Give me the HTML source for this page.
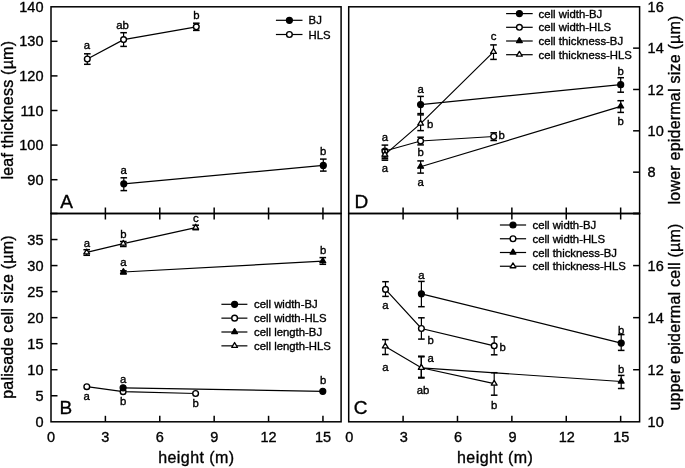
<!DOCTYPE html>
<html><head><meta charset="utf-8"><style>
html,body{margin:0;padding:0;background:#fff;}
svg{display:block;will-change:transform;}
text{font-family:"Liberation Sans",sans-serif;fill:#000;stroke:#000;stroke-width:0.35px;}
</style></head><body>
<svg width="685" height="468" viewBox="0 0 685 468">
<rect width="685" height="468" fill="#fff"/>
<g stroke="#000" fill="none">
<rect x="51.0" y="6.8" width="290.1" height="206.7" fill="none" stroke-width="1.5"/>
<rect x="51.0" y="213.5" width="290.1" height="208.3" fill="none" stroke-width="1.5"/>
<rect x="348.7" y="6.8" width="290.90000000000003" height="206.7" fill="none" stroke-width="1.5"/>
<rect x="348.7" y="213.5" width="290.90000000000003" height="208.3" fill="none" stroke-width="1.5"/>
<line x1="105.39" y1="207.5" x2="105.39" y2="219.5" stroke-width="1.5"/>
<line x1="105.39" y1="415.8" x2="105.39" y2="421.8" stroke-width="1.5"/>
<line x1="159.78" y1="207.5" x2="159.78" y2="219.5" stroke-width="1.5"/>
<line x1="159.78" y1="415.8" x2="159.78" y2="421.8" stroke-width="1.5"/>
<line x1="214.17" y1="207.5" x2="214.17" y2="219.5" stroke-width="1.5"/>
<line x1="214.17" y1="415.8" x2="214.17" y2="421.8" stroke-width="1.5"/>
<line x1="268.56" y1="207.5" x2="268.56" y2="219.5" stroke-width="1.5"/>
<line x1="268.56" y1="415.8" x2="268.56" y2="421.8" stroke-width="1.5"/>
<line x1="322.95" y1="207.5" x2="322.95" y2="219.5" stroke-width="1.5"/>
<line x1="322.95" y1="415.8" x2="322.95" y2="421.8" stroke-width="1.5"/>
<text x="51.0" y="442.3" font-size="14.5" text-anchor="middle" >0</text>
<text x="105.39" y="442.3" font-size="14.5" text-anchor="middle" >3</text>
<text x="159.78" y="442.3" font-size="14.5" text-anchor="middle" >6</text>
<text x="214.17" y="442.3" font-size="14.5" text-anchor="middle" >9</text>
<text x="268.56" y="442.3" font-size="14.5" text-anchor="middle" >12</text>
<text x="322.95" y="442.3" font-size="14.5" text-anchor="middle" >15</text>
<line x1="403.09" y1="207.5" x2="403.09" y2="219.5" stroke-width="1.5"/>
<line x1="403.09" y1="415.8" x2="403.09" y2="421.8" stroke-width="1.5"/>
<line x1="457.48" y1="207.5" x2="457.48" y2="219.5" stroke-width="1.5"/>
<line x1="457.48" y1="415.8" x2="457.48" y2="421.8" stroke-width="1.5"/>
<line x1="511.87" y1="207.5" x2="511.87" y2="219.5" stroke-width="1.5"/>
<line x1="511.87" y1="415.8" x2="511.87" y2="421.8" stroke-width="1.5"/>
<line x1="566.26" y1="207.5" x2="566.26" y2="219.5" stroke-width="1.5"/>
<line x1="566.26" y1="415.8" x2="566.26" y2="421.8" stroke-width="1.5"/>
<line x1="620.65" y1="207.5" x2="620.65" y2="219.5" stroke-width="1.5"/>
<line x1="620.65" y1="415.8" x2="620.65" y2="421.8" stroke-width="1.5"/>
<text x="349.3" y="442.3" font-size="14.5" text-anchor="middle" >0</text>
<text x="403.69" y="442.3" font-size="14.5" text-anchor="middle" >3</text>
<text x="458.08" y="442.3" font-size="14.5" text-anchor="middle" >6</text>
<text x="512.47" y="442.3" font-size="14.5" text-anchor="middle" >9</text>
<text x="566.86" y="442.3" font-size="14.5" text-anchor="middle" >12</text>
<text x="621.25" y="442.3" font-size="14.5" text-anchor="middle" >15</text>
<text x="196.4" y="462.6" font-size="16" text-anchor="middle" letter-spacing="0.44">height (m)</text>
<text x="495.2" y="462.6" font-size="16" text-anchor="middle" letter-spacing="0.44">height (m)</text>
<line x1="51.0" y1="179.7" x2="57.5" y2="179.7" stroke-width="1.5"/>
<text x="43.5" y="184.89" font-size="14.5" text-anchor="end" >90</text>
<line x1="51.0" y1="145.1" x2="57.5" y2="145.1" stroke-width="1.5"/>
<text x="43.5" y="150.29" font-size="14.5" text-anchor="end" >100</text>
<line x1="51.0" y1="110.5" x2="57.5" y2="110.5" stroke-width="1.5"/>
<text x="43.5" y="115.69" font-size="14.5" text-anchor="end" >110</text>
<line x1="51.0" y1="75.9" x2="57.5" y2="75.9" stroke-width="1.5"/>
<text x="43.5" y="81.09" font-size="14.5" text-anchor="end" >120</text>
<line x1="51.0" y1="41.300000000000004" x2="57.5" y2="41.300000000000004" stroke-width="1.5"/>
<text x="43.5" y="46.49" font-size="14.5" text-anchor="end" >130</text>
<text x="43.5" y="11.89" font-size="14.5" text-anchor="end" >140</text>
<text x="43.5" y="426.99" font-size="14.5" text-anchor="end" >0</text>
<line x1="51.0" y1="395.7625" x2="57.5" y2="395.7625" stroke-width="1.5"/>
<text x="43.5" y="400.95" font-size="14.5" text-anchor="end" >5</text>
<line x1="51.0" y1="369.725" x2="57.5" y2="369.725" stroke-width="1.5"/>
<text x="43.5" y="374.92" font-size="14.5" text-anchor="end" >10</text>
<line x1="51.0" y1="343.6875" x2="57.5" y2="343.6875" stroke-width="1.5"/>
<text x="43.5" y="348.88" font-size="14.5" text-anchor="end" >15</text>
<line x1="51.0" y1="317.65" x2="57.5" y2="317.65" stroke-width="1.5"/>
<text x="43.5" y="322.84" font-size="14.5" text-anchor="end" >20</text>
<line x1="51.0" y1="291.6125" x2="57.5" y2="291.6125" stroke-width="1.5"/>
<text x="43.5" y="296.8" font-size="14.5" text-anchor="end" >25</text>
<line x1="51.0" y1="265.57500000000005" x2="57.5" y2="265.57500000000005" stroke-width="1.5"/>
<text x="43.5" y="270.77" font-size="14.5" text-anchor="end" >30</text>
<line x1="51.0" y1="239.53750000000002" x2="57.5" y2="239.53750000000002" stroke-width="1.5"/>
<text x="43.5" y="244.73" font-size="14.5" text-anchor="end" >35</text>
<line x1="51.0" y1="213.5" x2="57.5" y2="213.5" stroke-width="1.5"/>
<line x1="633.1" y1="213.5" x2="639.6" y2="213.5" stroke-width="1.5"/>
<line x1="633.1" y1="172.16" x2="639.6" y2="172.16" stroke-width="1.5"/>
<text x="647.6" y="177.35" font-size="14.5" text-anchor="start" >8</text>
<line x1="633.1" y1="130.82" x2="639.6" y2="130.82" stroke-width="1.5"/>
<text x="647.6" y="136.01" font-size="14.5" text-anchor="start" >10</text>
<line x1="633.1" y1="89.47999999999999" x2="639.6" y2="89.47999999999999" stroke-width="1.5"/>
<text x="647.6" y="94.67" font-size="14.5" text-anchor="start" >12</text>
<line x1="633.1" y1="48.13999999999999" x2="639.6" y2="48.13999999999999" stroke-width="1.5"/>
<text x="647.6" y="53.33" font-size="14.5" text-anchor="start" >14</text>
<text x="647.6" y="11.99" font-size="14.5" text-anchor="start" >16</text>
<text x="647.6" y="426.99" font-size="14.5" text-anchor="start" >10</text>
<line x1="633.1" y1="369.725" x2="639.6" y2="369.725" stroke-width="1.5"/>
<text x="647.6" y="374.92" font-size="14.5" text-anchor="start" >12</text>
<line x1="633.1" y1="317.65" x2="639.6" y2="317.65" stroke-width="1.5"/>
<text x="647.6" y="322.84" font-size="14.5" text-anchor="start" >14</text>
<line x1="633.1" y1="265.575" x2="639.6" y2="265.575" stroke-width="1.5"/>
<text x="647.6" y="270.77" font-size="14.5" text-anchor="start" >16</text>
<line x1="633.1" y1="213.5" x2="639.6" y2="213.5" stroke-width="1.5"/>
<text transform="translate(12.8,110.2) rotate(-90)" font-size="16" text-anchor="middle" letter-spacing="0.22">leaf thickness (µm)</text>
<text transform="translate(12.8,317.0) rotate(-90)" font-size="16" text-anchor="middle" letter-spacing="0.22">palisade cell size (µm)</text>
<text transform="translate(680.3,110.0) rotate(-90)" font-size="16" text-anchor="middle" letter-spacing="0.22">lower epidermal size (µm)</text>
<text transform="translate(680.3,317.0) rotate(-90)" font-size="16" text-anchor="middle" letter-spacing="0.22">upper epidermal cell (µm)</text>
<text x="60.3" y="207.8" font-size="19" text-anchor="start" >A</text>
<text x="59.6" y="413.6" font-size="19" text-anchor="start" >B</text>
<text x="354.5" y="208.0" font-size="19" text-anchor="start" >D</text>
<text x="353.8" y="414.3" font-size="19" text-anchor="start" >C</text>
<polyline points="87.3,59.0 123.6,39.6 196.3,26.8" fill="none" stroke-width="1.2"/>
<line x1="87.3" y1="53.8" x2="87.3" y2="64.3" stroke-width="1.2"/>
<line x1="84.0" y1="53.8" x2="90.6" y2="53.8" stroke-width="1.5"/>
<line x1="84.0" y1="64.3" x2="90.6" y2="64.3" stroke-width="1.5"/>
<line x1="123.6" y1="32.7" x2="123.6" y2="46.4" stroke-width="1.2"/>
<line x1="120.3" y1="32.7" x2="126.89999999999999" y2="32.7" stroke-width="1.5"/>
<line x1="120.3" y1="46.4" x2="126.89999999999999" y2="46.4" stroke-width="1.5"/>
<line x1="196.3" y1="23.2" x2="196.3" y2="30.4" stroke-width="1.2"/>
<line x1="193.0" y1="23.2" x2="199.60000000000002" y2="23.2" stroke-width="1.5"/>
<line x1="193.0" y1="30.4" x2="199.60000000000002" y2="30.4" stroke-width="1.5"/>
<circle cx="87.3" cy="59.0" r="2.8499999999999996" fill="#fff" stroke-width="1.4"/>
<circle cx="123.6" cy="39.6" r="2.8499999999999996" fill="#fff" stroke-width="1.4"/>
<circle cx="196.3" cy="26.8" r="2.8499999999999996" fill="#fff" stroke-width="1.4"/>
<polyline points="123.8,183.8 323.3,165.4" fill="none" stroke-width="1.2"/>
<line x1="123.8" y1="177.8" x2="123.8" y2="190.6" stroke-width="1.2"/>
<line x1="120.5" y1="177.8" x2="127.1" y2="177.8" stroke-width="1.5"/>
<line x1="120.5" y1="190.6" x2="127.1" y2="190.6" stroke-width="1.5"/>
<line x1="323.3" y1="159.1" x2="323.3" y2="171.1" stroke-width="1.2"/>
<line x1="320.0" y1="159.1" x2="326.6" y2="159.1" stroke-width="1.5"/>
<line x1="320.0" y1="171.1" x2="326.6" y2="171.1" stroke-width="1.5"/>
<circle cx="123.8" cy="183.8" r="3.0" fill="#000" stroke-width="1.2"/>
<circle cx="323.3" cy="165.4" r="3.0" fill="#000" stroke-width="1.2"/>
<text x="87.0" y="49.0" font-size="11.35" text-anchor="middle" >a</text>
<text x="122.6" y="29.4" font-size="11.35" text-anchor="middle" >ab</text>
<text x="196.3" y="19.2" font-size="11.35" text-anchor="middle" >b</text>
<text x="123.6" y="173.5" font-size="11.35" text-anchor="middle" >a</text>
<text x="323.1" y="154.8" font-size="11.35" text-anchor="middle" >b</text>
<line x1="275.9" y1="20.3" x2="302.5" y2="20.3" stroke-width="1.2"/>
<circle cx="289.4" cy="20.3" r="3.0" fill="#000" stroke-width="1.2"/>
<text x="308.6" y="24.4" font-size="11.35" text-anchor="start" >BJ</text>
<line x1="275.9" y1="34.5" x2="302.5" y2="34.5" stroke-width="1.2"/>
<circle cx="289.4" cy="34.5" r="2.8499999999999996" fill="#fff" stroke-width="1.4"/>
<text x="308.6" y="38.6" font-size="11.35" text-anchor="start" >HLS</text>
<polyline points="86.7,252.4 123.3,243.7 195.7,227.6" fill="none" stroke-width="1.2"/>
<line x1="86.7" y1="249.7" x2="86.7" y2="255.3" stroke-width="1.2"/>
<line x1="83.4" y1="249.7" x2="90.0" y2="249.7" stroke-width="1.5"/>
<line x1="83.4" y1="255.3" x2="90.0" y2="255.3" stroke-width="1.5"/>
<line x1="123.3" y1="241.5" x2="123.3" y2="246.5" stroke-width="1.2"/>
<line x1="120.0" y1="241.5" x2="126.6" y2="241.5" stroke-width="1.5"/>
<line x1="120.0" y1="246.5" x2="126.6" y2="246.5" stroke-width="1.5"/>
<line x1="195.7" y1="225.2" x2="195.7" y2="229.7" stroke-width="1.2"/>
<line x1="192.39999999999998" y1="225.2" x2="199.0" y2="225.2" stroke-width="1.5"/>
<line x1="192.39999999999998" y1="229.7" x2="199.0" y2="229.7" stroke-width="1.5"/>
<polygon points="86.70,249.10 89.60,253.90 83.80,253.90" fill="#fff" stroke-width="1.3" stroke-linejoin="round"/>
<polygon points="123.30,240.40 126.20,245.20 120.40,245.20" fill="#fff" stroke-width="1.3" stroke-linejoin="round"/>
<polygon points="195.70,224.30 198.60,229.10 192.80,229.10" fill="#fff" stroke-width="1.3" stroke-linejoin="round"/>
<polyline points="123.4,272.0 322.8,261.2" fill="none" stroke-width="1.2"/>
<line x1="123.4" y1="270.8" x2="123.4" y2="274.0" stroke-width="1.2"/>
<line x1="120.10000000000001" y1="270.8" x2="126.7" y2="270.8" stroke-width="1.5"/>
<line x1="120.10000000000001" y1="274.0" x2="126.7" y2="274.0" stroke-width="1.5"/>
<line x1="322.8" y1="257.6" x2="322.8" y2="264.3" stroke-width="1.2"/>
<line x1="319.5" y1="257.6" x2="326.1" y2="257.6" stroke-width="1.5"/>
<line x1="319.5" y1="264.3" x2="326.1" y2="264.3" stroke-width="1.5"/>
<polygon points="123.40,268.70 126.30,273.50 120.50,273.50" fill="#000" stroke-width="1.3" stroke-linejoin="round"/>
<polygon points="322.80,257.90 325.70,262.70 319.90,262.70" fill="#000" stroke-width="1.3" stroke-linejoin="round"/>
<polyline points="86.8,386.7 123.1,391.7 195.6,393.5" fill="none" stroke-width="1.2"/>
<circle cx="86.8" cy="386.7" r="2.8499999999999996" fill="#fff" stroke-width="1.4"/>
<circle cx="123.1" cy="391.7" r="2.8499999999999996" fill="#fff" stroke-width="1.4"/>
<circle cx="195.6" cy="393.5" r="2.8499999999999996" fill="#fff" stroke-width="1.4"/>
<polyline points="123.1,387.8 322.8,391.3" fill="none" stroke-width="1.2"/>
<circle cx="123.1" cy="387.8" r="3.0" fill="#000" stroke-width="1.2"/>
<circle cx="322.8" cy="391.3" r="3.0" fill="#000" stroke-width="1.2"/>
<text x="87.0" y="246.5" font-size="11.35" text-anchor="middle" >a</text>
<text x="123.3" y="237.7" font-size="11.35" text-anchor="middle" >b</text>
<text x="195.9" y="222.2" font-size="11.35" text-anchor="middle" >c</text>
<text x="123.4" y="266.4" font-size="11.35" text-anchor="middle" >a</text>
<text x="323.1" y="254.2" font-size="11.35" text-anchor="middle" >b</text>
<text x="86.6" y="400.0" font-size="11.35" text-anchor="middle" >a</text>
<text x="123.1" y="405.2" font-size="11.35" text-anchor="middle" >b</text>
<text x="195.6" y="407.0" font-size="11.35" text-anchor="middle" >b</text>
<text x="123.1" y="382.9" font-size="11.35" text-anchor="middle" >a</text>
<text x="323.1" y="384.2" font-size="11.35" text-anchor="middle" >b</text>
<line x1="221.4" y1="304.3" x2="247.4" y2="304.3" stroke-width="1.2"/>
<circle cx="234.6" cy="304.3" r="3.0" fill="#000" stroke-width="1.2"/>
<text x="254.0" y="308.4" font-size="11.35" text-anchor="start" >cell width-BJ</text>
<line x1="221.4" y1="318.15000000000003" x2="247.4" y2="318.15000000000003" stroke-width="1.2"/>
<circle cx="234.6" cy="318.15000000000003" r="2.8499999999999996" fill="#fff" stroke-width="1.4"/>
<text x="254.0" y="322.25" font-size="11.35" text-anchor="start" >cell width-HLS</text>
<line x1="221.4" y1="332.0" x2="247.4" y2="332.0" stroke-width="1.2"/>
<polygon points="234.60,328.70 237.50,333.50 231.70,333.50" fill="#000" stroke-width="1.3" stroke-linejoin="round"/>
<text x="254.0" y="336.1" font-size="11.35" text-anchor="start" >cell length-BJ</text>
<line x1="221.4" y1="345.85" x2="247.4" y2="345.85" stroke-width="1.2"/>
<polygon points="234.60,342.55 237.50,347.35 231.70,347.35" fill="#fff" stroke-width="1.3" stroke-linejoin="round"/>
<text x="254.0" y="349.95" font-size="11.35" text-anchor="start" >cell length-HLS</text>
<polyline points="384.9,151.0 420.6,141.0 493.7,136.5" fill="none" stroke-width="1.2"/>
<line x1="384.9" y1="145.1" x2="384.9" y2="157.0" stroke-width="1.2"/>
<line x1="381.59999999999997" y1="145.1" x2="388.2" y2="145.1" stroke-width="1.5"/>
<line x1="381.59999999999997" y1="157.0" x2="388.2" y2="157.0" stroke-width="1.5"/>
<line x1="420.6" y1="137.2" x2="420.6" y2="144.9" stroke-width="1.2"/>
<line x1="417.3" y1="137.2" x2="423.90000000000003" y2="137.2" stroke-width="1.5"/>
<line x1="417.3" y1="144.9" x2="423.90000000000003" y2="144.9" stroke-width="1.5"/>
<line x1="493.7" y1="132.8" x2="493.7" y2="140.5" stroke-width="1.2"/>
<line x1="490.4" y1="132.8" x2="497.0" y2="132.8" stroke-width="1.5"/>
<line x1="490.4" y1="140.5" x2="497.0" y2="140.5" stroke-width="1.5"/>
<circle cx="384.9" cy="151.0" r="2.8499999999999996" fill="#fff" stroke-width="1.4"/>
<circle cx="420.6" cy="141.0" r="2.8499999999999996" fill="#fff" stroke-width="1.4"/>
<circle cx="493.7" cy="136.5" r="2.8499999999999996" fill="#fff" stroke-width="1.4"/>
<polyline points="384.9,154.6 420.6,123.6 493.5,51.9" fill="none" stroke-width="1.2"/>
<line x1="384.9" y1="149.5" x2="384.9" y2="158.6" stroke-width="1.2"/>
<line x1="381.59999999999997" y1="149.5" x2="388.2" y2="149.5" stroke-width="1.5"/>
<line x1="381.59999999999997" y1="158.6" x2="388.2" y2="158.6" stroke-width="1.5"/>
<line x1="420.6" y1="114.9" x2="420.6" y2="130.6" stroke-width="1.2"/>
<line x1="417.3" y1="114.9" x2="423.90000000000003" y2="114.9" stroke-width="1.5"/>
<line x1="417.3" y1="130.6" x2="423.90000000000003" y2="130.6" stroke-width="1.5"/>
<line x1="493.5" y1="44.9" x2="493.5" y2="59.4" stroke-width="1.2"/>
<line x1="490.2" y1="44.9" x2="496.8" y2="44.9" stroke-width="1.5"/>
<line x1="490.2" y1="59.4" x2="496.8" y2="59.4" stroke-width="1.5"/>
<polygon points="384.90,151.30 387.80,156.10 382.00,156.10" fill="#fff" stroke-width="1.3" stroke-linejoin="round"/>
<polygon points="420.60,120.30 423.50,125.10 417.70,125.10" fill="#fff" stroke-width="1.3" stroke-linejoin="round"/>
<polygon points="493.50,48.60 496.40,53.40 490.60,53.40" fill="#fff" stroke-width="1.3" stroke-linejoin="round"/>
<polyline points="420.6,166.7 620.7,106.4" fill="none" stroke-width="1.2"/>
<line x1="420.6" y1="160.9" x2="420.6" y2="173.1" stroke-width="1.2"/>
<line x1="417.3" y1="160.9" x2="423.90000000000003" y2="160.9" stroke-width="1.5"/>
<line x1="417.3" y1="173.1" x2="423.90000000000003" y2="173.1" stroke-width="1.5"/>
<line x1="620.7" y1="100.7" x2="620.7" y2="112.4" stroke-width="1.2"/>
<line x1="617.4000000000001" y1="100.7" x2="624.0" y2="100.7" stroke-width="1.5"/>
<line x1="617.4000000000001" y1="112.4" x2="624.0" y2="112.4" stroke-width="1.5"/>
<polygon points="420.60,163.40 423.50,168.20 417.70,168.20" fill="#000" stroke-width="1.3" stroke-linejoin="round"/>
<polygon points="620.70,103.10 623.60,107.90 617.80,107.90" fill="#000" stroke-width="1.3" stroke-linejoin="round"/>
<polyline points="420.6,104.6 620.7,84.7" fill="none" stroke-width="1.2"/>
<line x1="420.6" y1="96.4" x2="420.6" y2="113.6" stroke-width="1.2"/>
<line x1="417.3" y1="96.4" x2="423.90000000000003" y2="96.4" stroke-width="1.5"/>
<line x1="417.3" y1="113.6" x2="423.90000000000003" y2="113.6" stroke-width="1.5"/>
<line x1="620.7" y1="77.7" x2="620.7" y2="92.2" stroke-width="1.2"/>
<line x1="617.4000000000001" y1="77.7" x2="624.0" y2="77.7" stroke-width="1.5"/>
<line x1="617.4000000000001" y1="92.2" x2="624.0" y2="92.2" stroke-width="1.5"/>
<circle cx="420.6" cy="104.6" r="3.0" fill="#000" stroke-width="1.2"/>
<circle cx="620.7" cy="84.7" r="3.0" fill="#000" stroke-width="1.2"/>
<line x1="381.59999999999997" y1="160.2" x2="388.2" y2="160.2" stroke-width="1.5"/>
<text x="384.9" y="141.2" font-size="11.35" text-anchor="middle" >a</text>
<text x="384.9" y="172.0" font-size="11.35" text-anchor="middle" >a</text>
<text x="420.6" y="93.2" font-size="11.35" text-anchor="middle" >a</text>
<text x="427.0" y="127.8" font-size="11.35" text-anchor="start" >b</text>
<text x="420.6" y="156.2" font-size="11.35" text-anchor="middle" >b</text>
<text x="420.6" y="185.9" font-size="11.35" text-anchor="middle" >a</text>
<text x="493.5" y="40.1" font-size="11.35" text-anchor="middle" >c</text>
<text x="498.6" y="139.2" font-size="11.35" text-anchor="start" >b</text>
<text x="620.7" y="75.4" font-size="11.35" text-anchor="middle" >b</text>
<text x="620.7" y="124.7" font-size="11.35" text-anchor="middle" >b</text>
<line x1="506.1" y1="13.6" x2="532.7" y2="13.6" stroke-width="1.2"/>
<circle cx="519.4" cy="13.6" r="3.0" fill="#000" stroke-width="1.2"/>
<text x="538.6" y="17.7" font-size="11.35" text-anchor="start" >cell width-BJ</text>
<line x1="506.1" y1="27.299999999999997" x2="532.7" y2="27.299999999999997" stroke-width="1.2"/>
<circle cx="519.4" cy="27.299999999999997" r="2.8499999999999996" fill="#fff" stroke-width="1.4"/>
<text x="538.6" y="31.4" font-size="11.35" text-anchor="start" >cell width-HLS</text>
<line x1="506.1" y1="41.0" x2="532.7" y2="41.0" stroke-width="1.2"/>
<polygon points="519.40,37.70 522.30,42.50 516.50,42.50" fill="#000" stroke-width="1.3" stroke-linejoin="round"/>
<text x="538.6" y="45.1" font-size="11.35" text-anchor="start" >cell thickness-BJ</text>
<line x1="506.1" y1="54.699999999999996" x2="532.7" y2="54.699999999999996" stroke-width="1.2"/>
<polygon points="519.40,51.40 522.30,56.20 516.50,56.20" fill="#fff" stroke-width="1.3" stroke-linejoin="round"/>
<text x="538.6" y="58.8" font-size="11.35" text-anchor="start" >cell thickness-HLS</text>
<polyline points="421.4,293.8 621.2,343.1" fill="none" stroke-width="1.2"/>
<line x1="421.4" y1="281.4" x2="421.4" y2="306.7" stroke-width="1.2"/>
<line x1="418.09999999999997" y1="281.4" x2="424.7" y2="281.4" stroke-width="1.5"/>
<line x1="418.09999999999997" y1="306.7" x2="424.7" y2="306.7" stroke-width="1.5"/>
<line x1="621.2" y1="334.6" x2="621.2" y2="350.4" stroke-width="1.2"/>
<line x1="617.9000000000001" y1="334.6" x2="624.5" y2="334.6" stroke-width="1.5"/>
<line x1="617.9000000000001" y1="350.4" x2="624.5" y2="350.4" stroke-width="1.5"/>
<circle cx="421.4" cy="293.8" r="3.0" fill="#000" stroke-width="1.2"/>
<circle cx="621.2" cy="343.1" r="3.0" fill="#000" stroke-width="1.2"/>
<polyline points="385.5,289.4 421.4,328.5 494.2,345.8" fill="none" stroke-width="1.2"/>
<line x1="385.5" y1="281.7" x2="385.5" y2="296.4" stroke-width="1.2"/>
<line x1="382.2" y1="281.7" x2="388.8" y2="281.7" stroke-width="1.5"/>
<line x1="382.2" y1="296.4" x2="388.8" y2="296.4" stroke-width="1.5"/>
<line x1="421.4" y1="317.8" x2="421.4" y2="339.1" stroke-width="1.2"/>
<line x1="418.09999999999997" y1="317.8" x2="424.7" y2="317.8" stroke-width="1.5"/>
<line x1="418.09999999999997" y1="339.1" x2="424.7" y2="339.1" stroke-width="1.5"/>
<line x1="494.2" y1="336.9" x2="494.2" y2="354.8" stroke-width="1.2"/>
<line x1="490.9" y1="336.9" x2="497.5" y2="336.9" stroke-width="1.5"/>
<line x1="490.9" y1="354.8" x2="497.5" y2="354.8" stroke-width="1.5"/>
<circle cx="385.5" cy="289.4" r="2.8499999999999996" fill="#fff" stroke-width="1.4"/>
<circle cx="421.4" cy="328.5" r="2.8499999999999996" fill="#fff" stroke-width="1.4"/>
<circle cx="494.2" cy="345.8" r="2.8499999999999996" fill="#fff" stroke-width="1.4"/>
<polyline points="421.3,367.8 621.2,381.5" fill="none" stroke-width="1.2"/>
<line x1="421.3" y1="356.2" x2="421.3" y2="377.4" stroke-width="1.2"/>
<line x1="418.0" y1="356.2" x2="424.6" y2="356.2" stroke-width="1.5"/>
<line x1="418.0" y1="377.4" x2="424.6" y2="377.4" stroke-width="1.5"/>
<line x1="621.2" y1="375.4" x2="621.2" y2="388.5" stroke-width="1.2"/>
<line x1="617.9000000000001" y1="375.4" x2="624.5" y2="375.4" stroke-width="1.5"/>
<line x1="617.9000000000001" y1="388.5" x2="624.5" y2="388.5" stroke-width="1.5"/>
<polygon points="421.30,364.50 424.20,369.30 418.40,369.30" fill="#000" stroke-width="1.3" stroke-linejoin="round"/>
<polygon points="621.20,378.20 624.10,383.00 618.30,383.00" fill="#000" stroke-width="1.3" stroke-linejoin="round"/>
<polyline points="385.3,346.4 421.3,367.8 494.2,383.7" fill="none" stroke-width="1.2"/>
<line x1="385.3" y1="339.6" x2="385.3" y2="354.5" stroke-width="1.2"/>
<line x1="382.0" y1="339.6" x2="388.6" y2="339.6" stroke-width="1.5"/>
<line x1="382.0" y1="354.5" x2="388.6" y2="354.5" stroke-width="1.5"/>
<line x1="421.3" y1="356.8" x2="421.3" y2="378.0" stroke-width="1.2"/>
<line x1="418.0" y1="356.8" x2="424.6" y2="356.8" stroke-width="1.5"/>
<line x1="418.0" y1="378.0" x2="424.6" y2="378.0" stroke-width="1.5"/>
<line x1="494.2" y1="372.7" x2="494.2" y2="395.2" stroke-width="1.2"/>
<line x1="490.9" y1="372.7" x2="497.5" y2="372.7" stroke-width="1.5"/>
<line x1="490.9" y1="395.2" x2="497.5" y2="395.2" stroke-width="1.5"/>
<polygon points="385.30,343.10 388.20,347.90 382.40,347.90" fill="#fff" stroke-width="1.3" stroke-linejoin="round"/>
<polygon points="421.30,364.50 424.20,369.30 418.40,369.30" fill="#fff" stroke-width="1.3" stroke-linejoin="round"/>
<polygon points="494.20,380.40 497.10,385.20 491.30,385.20" fill="#fff" stroke-width="1.3" stroke-linejoin="round"/>
<text x="421.4" y="278.9" font-size="11.35" text-anchor="middle" >a</text>
<text x="621.2" y="333.5" font-size="11.35" text-anchor="middle" >b</text>
<text x="385.5" y="309.0" font-size="11.35" text-anchor="middle" >a</text>
<text x="427.6" y="343.6" font-size="11.35" text-anchor="start" >b</text>
<text x="499.4" y="351.4" font-size="11.35" text-anchor="start" >b</text>
<text x="385.3" y="371.2" font-size="11.35" text-anchor="middle" >a</text>
<text x="427.5" y="362.1" font-size="11.35" text-anchor="start" >a</text>
<text x="423.0" y="393.5" font-size="11.35" text-anchor="middle" >ab</text>
<text x="494.2" y="409.1" font-size="11.35" text-anchor="middle" >b</text>
<text x="621.2" y="372.9" font-size="11.35" text-anchor="middle" >b</text>
<line x1="499.9" y1="225.0" x2="526.1" y2="225.0" stroke-width="1.2"/>
<circle cx="513.0" cy="225.0" r="3.0" fill="#000" stroke-width="1.2"/>
<text x="532.5" y="229.1" font-size="11.35" text-anchor="start" >cell width-BJ</text>
<line x1="499.9" y1="238.75" x2="526.1" y2="238.75" stroke-width="1.2"/>
<circle cx="513.0" cy="238.75" r="2.8499999999999996" fill="#fff" stroke-width="1.4"/>
<text x="532.5" y="242.85" font-size="11.35" text-anchor="start" >cell width-HLS</text>
<line x1="499.9" y1="252.5" x2="526.1" y2="252.5" stroke-width="1.2"/>
<polygon points="513.00,249.20 515.90,254.00 510.10,254.00" fill="#000" stroke-width="1.3" stroke-linejoin="round"/>
<text x="532.5" y="256.6" font-size="11.35" text-anchor="start" >cell thickness-BJ</text>
<line x1="499.9" y1="266.25" x2="526.1" y2="266.25" stroke-width="1.2"/>
<polygon points="513.00,262.95 515.90,267.75 510.10,267.75" fill="#fff" stroke-width="1.3" stroke-linejoin="round"/>
<text x="532.5" y="270.35" font-size="11.35" text-anchor="start" >cell thickness-HLS</text>
</g>
</svg>
</body></html>
